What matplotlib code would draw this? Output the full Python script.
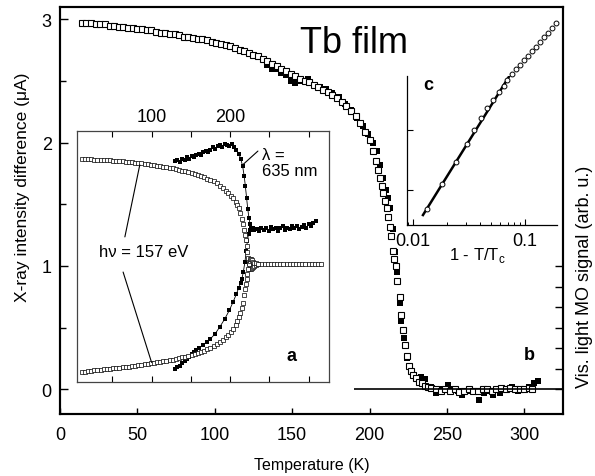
import matplotlib
matplotlib.use("Agg")
import matplotlib.pyplot as plt
from matplotlib.ticker import MultipleLocator, FixedLocator, NullFormatter, FixedFormatter

plt.rcParams['font.family'] = ['Liberation Sans', 'DejaVu Sans']
plt.rcParams['mathtext.fontset'] = 'custom'
plt.rcParams['mathtext.rm'] = 'Liberation Sans'

# ---- main panel: X-ray intensity difference (uA) vs temperature (K)
xray_T = [14, 17, 20, 23, 26, 29, 32, 35, 38, 41, 44, 47, 50, 53, 56, 59, 62, 65, 68, 71,
          74, 77, 80, 83, 86, 89, 92, 95, 98, 101, 104, 107, 110, 113, 116, 119, 122, 125,
          128, 131, 134, 137, 140, 143, 146, 149, 152, 155, 158, 161, 164, 167, 170, 173,
          176, 179, 182, 185, 188, 191, 194, 197, 200,
          202, 204, 205.5, 207, 208, 209, 210, 211, 212, 213, 214, 215, 216, 217, 218, 219.5,
          220.2, 221.4, 222.7, 224, 225.3, 226.5, 228, 230, 232, 234, 236, 238,
          240, 243, 246, 249, 252, 255, 258, 261, 264, 267, 270, 273, 276, 279, 282, 285,
          288, 291, 294, 297, 300, 303, 305]
xray_I = [2.97, 2.97, 2.97, 2.96, 2.96, 2.96, 2.95, 2.95, 2.94, 2.94, 2.93, 2.93, 2.92, 2.92,
          2.91, 2.91, 2.90, 2.89, 2.89, 2.88, 2.88, 2.87, 2.86, 2.86, 2.85, 2.84, 2.84, 2.83,
          2.82, 2.81, 2.80, 2.79, 2.78, 2.77, 2.75, 2.74, 2.73, 2.71, 2.70, 2.68, 2.66, 2.64,
          2.62, 2.60, 2.58, 2.56, 2.54, 2.52, 2.50, 2.49, 2.47, 2.45, 2.43, 2.41, 2.39, 2.36,
          2.33, 2.30, 2.26, 2.22, 2.16, 2.09, 2.02,
          1.93, 1.85, 1.78, 1.71, 1.65, 1.59, 1.53, 1.47, 1.40, 1.32, 1.24, 1.12, 1.06, 1.00,
          0.88, 0.75, 0.60, 0.48, 0.36, 0.27, 0.19, 0.15, 0.12, 0.09, 0.06, 0.05, 0.03, 0.02,
          0.01, 0.00, -0.01, 0.00, -0.01, 0.00, -0.02, -0.01, 0.00, -0.01, -0.01, 0.00, 0.00,
          -0.01, 0.00, 0.01, 0.00, 0.01, 0.00, 0.00, 0.00, 0.01, 0.00]

# visible light MO signal (arb. u.), right axis
mo_T = [134, 137, 140, 143, 146, 149, 152, 156, 160, 164, 168, 172, 176, 180, 184, 188, 192,
        196, 199, 202, 205, 207, 209, 210.5, 212, 213.5, 215, 216.5, 218, 219.5, 220.5, 222,
        224, 226, 229, 233, 236, 240, 243, 247, 251, 254, 257, 260, 264, 267, 271, 274, 277,
        280, 284, 288, 292, 296, 300, 303, 306, 309]
mo_S = [15.8, 15.6, 15.6, 15.4, 15.3, 15.0, 14.9, 15.0, 15.1, 14.8, 14.7, 14.6, 14.4, 14.2,
        13.9, 13.6, 13.2, 12.8, 12.4, 12.0, 11.6, 10.9, 10.3, 9.7, 9.3, 8.8, 7.8, 6.7, 5.7,
        4.2, 3.3, 2.5, 1.5, 1.1, 0.7, 0.6, 0.5, 0.1, -0.2, 0.0, 0.2, 0.0, -0.1, -0.3, -0.1,
        -0.1, -0.5, -0.2, -0.1, -0.3, -0.2, 0.0, 0.1, -0.1, 0.0, 0.1, 0.3, 0.4]

# ---- inset a: hysteresis branches (arb.)
a_up_T = [11, 15, 19, 23, 27, 31, 35, 39, 43, 47, 51, 55, 59, 63, 67, 71, 75, 79, 83, 87, 91,
          95, 99, 103, 107, 111, 115, 119, 123, 127, 131, 135, 139, 143, 147, 151, 155, 159,
          163, 167, 171, 175, 179, 183, 187, 191, 195, 198, 201, 204, 207, 209, 211, 213, 215,
          216.5, 218, 219, 220, 221, 222, 223, 224, 225, 226, 227, 228, 229.5, 231, 233, 236,
          240, 244, 248, 252, 256, 260, 264, 268, 272, 276, 280, 284, 288, 292, 296, 300, 304,
          308, 312, 316]
a_up_v = [.888, .888, .887, .887, .886, .886, .885, .884, .884, .883, .882, .881, .880, .879,
          .878, .877, .876, .874, .873, .871, .869, .867, .866, .864, .862, .860, .858, .856,
          .853, .851, .848, .845, .842, .839, .836, .832, .828, .824, .820, .815, .810, .805,
          .799, .792, .782, .772, .762, .752, .742, .732, .718, .706, .692, .675, .650, .630,
          .605, .585, .565, .540, .518, .495, .475, .460, .452, .450, .453, .458, .463, .467,
          .469, .470, .470, .470, .471, .470, .470, .470, .471, .470, .470, .470, .471, .470,
          .470, .470, .471, .470, .470, .470, .470]
a_lo_T = [11, 15, 19, 23, 27, 31, 35, 39, 43, 47, 51, 55, 59, 63, 67, 71, 75, 79, 83, 87, 91,
          95, 99, 103, 107, 111, 115, 119, 123, 127, 131, 135, 139, 143, 147, 151, 155, 159,
          163, 167, 171, 175, 179, 183, 187, 191, 195, 198, 201, 204, 207, 209, 211, 213, 215,
          216.5, 218, 219, 220, 221, 222, 223, 224, 225, 226, 227, 228, 229.5, 231, 233, 236]
a_lo_v = [.040, .041, .043, .044, .046, .047, .048, .050, .051, .052, .054, .055, .057, .058,
          .060, .061, .063, .064, .066, .068, .070, .072, .074, .076, .078, .080, .082, .084,
          .087, .089, .092, .095, .098, .101, .104, .107, .111, .115, .120, .125, .130, .136,
          .143, .150, .158, .167, .178, .189, .200, .212, .228, .242, .258, .275, .295, .315,
          .345, .370, .392, .412, .432, .452, .470, .483, .490, .489, .485, .480, .476, .473,
          .471]
af_up_T = [130, 133, 136, 139, 142, 145, 148, 151, 154, 157, 160, 163, 166, 169, 172, 175,
           178, 181, 184, 187, 190, 193, 196, 199, 202, 205, 208, 211, 213.5, 216, 218, 219.5,
           221, 222.5, 224, 225.5, 227, 229, 231, 234, 237, 240, 243, 246, 249, 252, 255, 258,
           261, 264, 267, 270, 273, 276, 279, 282, 285, 288, 291, 294, 297, 300, 303, 306, 309]
af_up_v = [.880, .885, .878, .890, .886, .895, .890, .900, .897, .905, .910, .905, .915, .920,
           .915, .925, .935, .930, .940, .945, .938, .950, .945, .940, .948, .935, .925, .910,
           .890, .860, .820, .780, .735, .690, .655, .630, .615, .612, .605, .610, .600, .615,
           .605, .612, .600, .618, .608, .615, .602, .612, .620, .605, .615, .610, .620, .612,
           .622, .610, .618, .625, .615, .628, .620, .632, .640]
af_lo_T = [130, 133, 136, 139, 142, 145, 148, 151, 154, 157, 160, 166, 170, 175, 181, 187,
           193, 199, 204, 208, 211, 213.5, 215, 217, 219, 220.5, 222, 223.5, 225, 226.5]
af_lo_v = [.050, .058, .065, .075, .085, .092, .100, .112, .120, .128, .135, .148, .160, .172,
           .192, .220, .250, .285, .320, .350, .375, .395, .410, .440, .480, .520, .560, .590,
           .605, .612]

# ---- inset c: log plot vs 1 - T/Tc
c_x = [0.01334, 0.01815, 0.0242, 0.0303, 0.0351, 0.0405, 0.0458, 0.0518, 0.0586, 0.0649,
       0.069, 0.0765, 0.0832, 0.0900, 0.0978, 0.106, 0.115, 0.125, 0.136, 0.147, 0.160,
       0.174, 0.189]
c_y = [0.683, 1.10, 1.467, 1.767, 2.0, 2.2, 2.367, 2.5, 2.633, 2.733, 2.833, 2.933, 3.017,
       3.083, 3.167, 3.233, 3.317, 3.383, 3.467, 3.55, 3.617, 3.70, 3.783]
fit_x = [0.01228, 0.0814]
fit_y = [0.583, 3.05]

fig = plt.figure(figsize=(5.95, 4.77), dpi=100)
ax = fig.add_axes([0.1008, 0.1300, 0.8454, 0.8532])
ax2 = ax.twinx()
ax.set_zorder(ax2.get_zorder() + 1)
ax.patch.set_visible(False)

ax2.plot(mo_T, mo_S, 's', color='k', ms=5, mew=0)
ax2.set_ylim(-1.2, 18.6)
ax2.yaxis.set_major_locator(FixedLocator([0, 1, 2, 3, 4, 5, 6]))
ax2.yaxis.set_major_formatter(NullFormatter())
ax2.tick_params(axis='y', direction='in', length=5.5, width=1)
ax2.set_ylabel('Vis. light MO signal (arb. u.)', fontsize=13)
ax2.yaxis.set_label_coords(1.025, 0.34)

ax.plot(xray_T, xray_I, 's', mfc='white', mec='k', ms=4.6, mew=0.8)
ax.hlines(0, 190, 325, color='k', lw=1.2)
ax.set_xlim(0, 325)
ax.set_ylim(-0.2, 3.1)
ax.xaxis.set_major_locator(MultipleLocator(50))
ax.yaxis.set_major_locator(MultipleLocator(1))
ax.yaxis.set_minor_locator(MultipleLocator(0.5))
ax.tick_params(axis='x', direction='in', length=4, width=1, labelsize=13, pad=9)
ax.tick_params(axis='y', which='major', direction='in', length=6, width=1, labelsize=13, pad=6)
ax.tick_params(axis='y', which='minor', direction='in', length=4, width=1)
ax.tick_params(top=False, right=False)
ax.set_xlabel('Temperature (K)', fontsize=11.5)
ax.xaxis.set_label_coords(0.5, -0.106)
ax.set_ylabel('X-ray intensity difference (\u03bcA)', fontsize=12.5)
ax.yaxis.set_label_coords(-0.06, 0.56)
for a in (ax, ax2):
    for s in a.spines.values():
        s.set_linewidth(1.5)
ax.text(0.934, 0.147, 'b', transform=ax.transAxes, fontsize=13, fontweight='bold',
        ha='center', va='center')
fig.text(0.504, 0.889, 'Tb film', fontsize=26, ha='left', va='baseline')

# inset a
ax_a = fig.add_axes([0.1294, 0.1971, 0.4235, 0.5262])
ax_a.set_zorder(5)
ax_a.plot(af_up_T, af_up_v, '-s', color='k', ms=2.2, lw=0.6, mew=0)
ax_a.plot(af_lo_T, af_lo_v, '-s', color='k', ms=2.2, lw=0.6, mew=0)
ax_a.plot(a_up_T, a_up_v, 's', mfc='white', mec='k', ms=3, mew=0.5)
ax_a.plot(a_lo_T, a_lo_v, 's', mfc='white', mec='k', ms=3, mew=0.5)
ax_a.set_xlim(5, 326)
ax_a.set_ylim(0, 1)
ax_a.set_yticks([])
ax_a.xaxis.set_major_locator(FixedLocator([50, 100, 150, 200, 250, 300]))
ax_a.xaxis.set_major_formatter(FixedFormatter(['', '100', '', '200', '', '']))
ax_a.tick_params(axis='x', direction='in', length=4, width=0.8, top=True, bottom=True,
                 labeltop=True, labelbottom=False, labelsize=13, pad=4)
for s in ax_a.spines.values():
    s.set_linewidth(0.9)
    s.set_color('#444444')
ax_a.text(0.266, 0.518, 'h\u03bd = 157 eV', transform=ax_a.transAxes, fontsize=12,
          ha='center', va='center')
ax_a.annotate('', xy=(85, 0.865), xytext=(0.19, 0.578), textcoords='axes fraction',
              arrowprops=dict(arrowstyle='-', lw=0.8, color='k', shrinkA=0, shrinkB=0))
ax_a.annotate('', xy=(100, 0.078), xytext=(0.183, 0.438), textcoords='axes fraction',
              arrowprops=dict(arrowstyle='-', lw=0.8, color='k', shrinkA=0, shrinkB=0))
ax_a.text(0.734, 0.876, '\u03bb =\n635 nm', transform=ax_a.transAxes, fontsize=12,
          ha='left', va='center', linespacing=1.1)
ax_a.annotate('', xy=(216, 0.865), xytext=(0.718, 0.92), textcoords='axes fraction',
              arrowprops=dict(arrowstyle='-', lw=0.8, color='k', shrinkA=0, shrinkB=0))
ax_a.text(0.853, 0.104, 'a', transform=ax_a.transAxes, fontsize=13, fontweight='bold',
          ha='center', va='center')

# inset c
ax_c = fig.add_axes([0.6840, 0.5262, 0.2521, 0.3124])
ax_c.set_zorder(6)
ax_c.patch.set_visible(False)
ax_c.plot(fit_x, fit_y, '-', color='k', lw=1.8)
ax_c.plot(c_x, c_y, 'o', mfc='white', mec='k', ms=3.5, mew=0.7, clip_on=False)
ax_c.set_xscale('log')
ax_c.set_xlim(0.00884, 0.193)
ax_c.set_ylim(0.417, 2.9)
ax_c.yaxis.set_major_locator(FixedLocator([1, 2]))
ax_c.yaxis.set_major_formatter(NullFormatter())
ax_c.xaxis.set_major_locator(FixedLocator([0.01, 0.1]))
ax_c.xaxis.set_major_formatter(FixedFormatter(['0.01', '0.1']))
ax_c.tick_params(axis='both', which='major', direction='in', length=4, width=0.8,
                 labelsize=13, pad=5)
ax_c.tick_params(axis='x', which='minor', direction='in', length=2.5, width=0.7)
ax_c.spines['top'].set_visible(False)
ax_c.spines['right'].set_visible(False)
for s in ('left', 'bottom'):
    ax_c.spines[s].set_linewidth(0.9)
ax_c.text(0.14, 0.946, 'c', transform=ax_c.transAxes, fontsize=13, fontweight='bold',
          ha='center', va='center')
ax_c.text(0.467, -0.195, r'1 - T/T$_\mathregular{c}$', transform=ax_c.transAxes,
          fontsize=12, ha='center', va='center')

fig.savefig('out.png', dpi=100)
